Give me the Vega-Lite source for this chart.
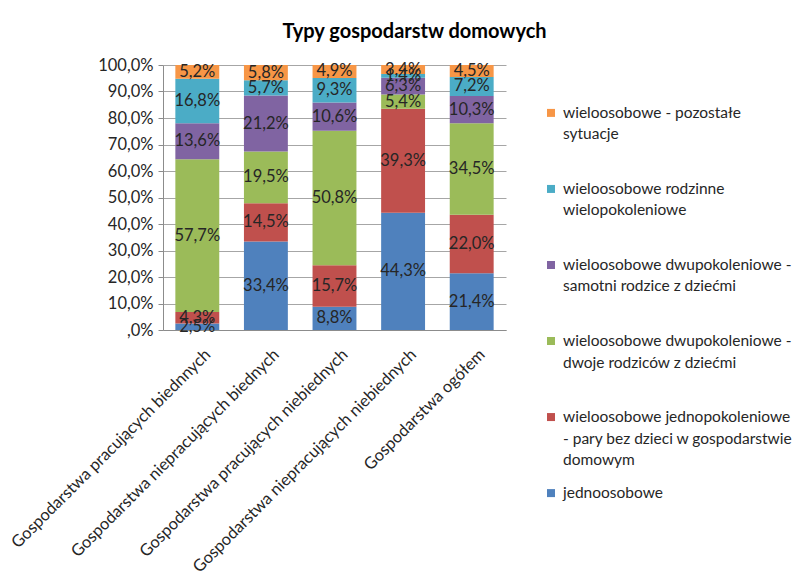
{
  "$schema": "https://vega.github.io/schema/vega-lite/v6.json",
  "padding": {"left": 8, "top": 22, "right": 2, "bottom": 0},
  "background": "white",
  "title": {"text": "Typy gospodarstw domowych", "fontSize": 20, "font": "Lato", "fontWeight": "bold", "color": "#000000", "anchor": "middle", "offset": 15, "dx": 14},
  "bounds": "flush",
  "spacing": 45,
  "datasets": {
    "bars": [
      {"cat": "Gospodarstwa pracujących biednnych", "series": "jednoosobowe", "value": 2.5},
      {"cat": "Gospodarstwa pracujących biednnych", "series": "wieloosobowe jednopokoleniowe - pary bez dzieci w gospodarstwie domowym", "value": 4.3},
      {"cat": "Gospodarstwa pracujących biednnych", "series": "wieloosobowe dwupokoleniowe - dwoje rodziców z dziećmi", "value": 57.7},
      {"cat": "Gospodarstwa pracujących biednnych", "series": "wieloosobowe dwupokoleniowe - samotni rodzice z dziećmi", "value": 13.6},
      {"cat": "Gospodarstwa pracujących biednnych", "series": "wieloosobowe rodzinne wielopokoleniowe", "value": 16.8},
      {"cat": "Gospodarstwa pracujących biednnych", "series": "wieloosobowe - pozostałe sytuacje", "value": 5.2},
      {"cat": "Gospodarstwa niepracujących biednych", "series": "jednoosobowe", "value": 33.4},
      {"cat": "Gospodarstwa niepracujących biednych", "series": "wieloosobowe jednopokoleniowe - pary bez dzieci w gospodarstwie domowym", "value": 14.5},
      {"cat": "Gospodarstwa niepracujących biednych", "series": "wieloosobowe dwupokoleniowe - dwoje rodziców z dziećmi", "value": 19.5},
      {"cat": "Gospodarstwa niepracujących biednych", "series": "wieloosobowe dwupokoleniowe - samotni rodzice z dziećmi", "value": 21.2},
      {"cat": "Gospodarstwa niepracujących biednych", "series": "wieloosobowe rodzinne wielopokoleniowe", "value": 5.7},
      {"cat": "Gospodarstwa niepracujących biednych", "series": "wieloosobowe - pozostałe sytuacje", "value": 5.8},
      {"cat": "Gospodarstwa pracujących niebiednych", "series": "jednoosobowe", "value": 8.8},
      {"cat": "Gospodarstwa pracujących niebiednych", "series": "wieloosobowe jednopokoleniowe - pary bez dzieci w gospodarstwie domowym", "value": 15.7},
      {"cat": "Gospodarstwa pracujących niebiednych", "series": "wieloosobowe dwupokoleniowe - dwoje rodziców z dziećmi", "value": 50.8},
      {"cat": "Gospodarstwa pracujących niebiednych", "series": "wieloosobowe dwupokoleniowe - samotni rodzice z dziećmi", "value": 10.6},
      {"cat": "Gospodarstwa pracujących niebiednych", "series": "wieloosobowe rodzinne wielopokoleniowe", "value": 9.3},
      {"cat": "Gospodarstwa pracujących niebiednych", "series": "wieloosobowe - pozostałe sytuacje", "value": 4.9},
      {"cat": "Gospodarstwa niepracujących niebiednych", "series": "jednoosobowe", "value": 44.3},
      {"cat": "Gospodarstwa niepracujących niebiednych", "series": "wieloosobowe jednopokoleniowe - pary bez dzieci w gospodarstwie domowym", "value": 39.3},
      {"cat": "Gospodarstwa niepracujących niebiednych", "series": "wieloosobowe dwupokoleniowe - dwoje rodziców z dziećmi", "value": 5.4},
      {"cat": "Gospodarstwa niepracujących niebiednych", "series": "wieloosobowe dwupokoleniowe - samotni rodzice z dziećmi", "value": 6.3},
      {"cat": "Gospodarstwa niepracujących niebiednych", "series": "wieloosobowe rodzinne wielopokoleniowe", "value": 1.4},
      {"cat": "Gospodarstwa niepracujących niebiednych", "series": "wieloosobowe - pozostałe sytuacje", "value": 3.4},
      {"cat": "Gospodarstwa ogółem", "series": "jednoosobowe", "value": 21.4},
      {"cat": "Gospodarstwa ogółem", "series": "wieloosobowe jednopokoleniowe - pary bez dzieci w gospodarstwie domowym", "value": 22.0},
      {"cat": "Gospodarstwa ogółem", "series": "wieloosobowe dwupokoleniowe - dwoje rodziców z dziećmi", "value": 34.5},
      {"cat": "Gospodarstwa ogółem", "series": "wieloosobowe dwupokoleniowe - samotni rodzice z dziećmi", "value": 10.3},
      {"cat": "Gospodarstwa ogółem", "series": "wieloosobowe rodzinne wielopokoleniowe", "value": 7.2},
      {"cat": "Gospodarstwa ogółem", "series": "wieloosobowe - pozostałe sytuacje", "value": 4.5}
    ],
    "leg": [
      {"series": "wieloosobowe - pozostałe sytuacje", "label": "wieloosobowe - pozostałe\nsytuacje"},
      {"series": "wieloosobowe rodzinne wielopokoleniowe", "label": "wieloosobowe rodzinne\nwielopokoleniowe"},
      {"series": "wieloosobowe dwupokoleniowe - samotni rodzice z dziećmi", "label": "wieloosobowe dwupokoleniowe -\nsamotni rodzice z dziećmi"},
      {"series": "wieloosobowe dwupokoleniowe - dwoje rodziców z dziećmi", "label": "wieloosobowe dwupokoleniowe -\ndwoje rodziców z dziećmi"},
      {"series": "wieloosobowe jednopokoleniowe - pary bez dzieci w gospodarstwie domowym", "label": "wieloosobowe jednopokoleniowe\n- pary bez dzieci w gospodarstwie\ndomowym"},
      {"series": "jednoosobowe", "label": "jednoosobowe"}
    ]
  },
  "hconcat": [
    {
      "width": 343,
      "height": 265,
      "data": {"name": "bars"},
      "transform": [
        {"calculate": "indexof(['jednoosobowe', 'wieloosobowe jednopokoleniowe - pary bez dzieci w gospodarstwie domowym', 'wieloosobowe dwupokoleniowe - dwoje rodziców z dziećmi', 'wieloosobowe dwupokoleniowe - samotni rodzice z dziećmi', 'wieloosobowe rodzinne wielopokoleniowe', 'wieloosobowe - pozostałe sytuacje'], datum.series)", "as": "ord"},
        {"stack": "value", "groupby": ["cat"], "sort": [{"field": "ord", "order": "ascending"}], "offset": "normalize", "as": ["y0", "y1"]},
        {"calculate": "(datum.y0 + datum.y1) / 2", "as": "ymid"},
        {"calculate": "replace(format(datum.value, '.1f'), '.', ',') + '%'", "as": "lab"}
      ],
      "encoding": {
        "x": {
          "field": "cat", "type": "nominal", "sort": null,
          "scale": {"paddingInner": 0.36, "paddingOuter": 0.18},
          "axis": {"title": null, "labelAngle": -45, "labelAlign": "right", "labelBaseline": "top", "labelFontSize": 16.5, "labelFont": "Lato", "labelColor": "#262626", "domainColor": "#8c8c8c", "ticks": false, "labelPadding": 16, "labelOffset": 5, "labelLimit": 500, "grid": false}
        }
      },
      "layer": [
        {
          "mark": {"type": "bar"},
          "encoding": {
            "y": {
              "field": "y0", "type": "quantitative",
              "scale": {"domain": [0, 1], "nice": false},
              "axis": {"title": null, "values": [0, 0.1, 0.2, 0.3, 0.4, 0.5, 0.6, 0.7, 0.8, 0.9, 1], "labelOverlap": false, "labelExpr": "datum.value == 0 ? ',0%' : replace(format(datum.value * 100, '.1f'), '.', ',') + '%'", "labelFontSize": 16.5, "labelFont": "Lato", "labelColor": "#262626", "domainColor": "#8c8c8c", "tickColor": "#8c8c8c", "tickSize": 5, "gridColor": "#a6a6a6", "labelPadding": 5}
            },
            "y2": {"field": "y1"},
            "color": {
              "field": "series", "type": "nominal",
              "scale": {"domain": ["jednoosobowe", "wieloosobowe jednopokoleniowe - pary bez dzieci w gospodarstwie domowym", "wieloosobowe dwupokoleniowe - dwoje rodziców z dziećmi", "wieloosobowe dwupokoleniowe - samotni rodzice z dziećmi", "wieloosobowe rodzinne wielopokoleniowe", "wieloosobowe - pozostałe sytuacje"], "range": ["#4F81BD", "#C0504D", "#9BBB59", "#8064A2", "#4BACC6", "#F79646"]},
              "legend": null
            }
          }
        },
        {
          "mark": {"type": "text", "fontSize": 16.5, "font": "Lato", "color": "#262626", "baseline": "middle", "align": "center"},
          "encoding": {
            "y": {
              "field": "ymid", "type": "quantitative",
              "axis": {"title": null, "values": [0, 0.1, 0.2, 0.3, 0.4, 0.5, 0.6, 0.7, 0.8, 0.9, 1], "labelOverlap": false, "labelExpr": "datum.value == 0 ? ',0%' : replace(format(datum.value * 100, '.1f'), '.', ',') + '%'", "labelFontSize": 16.5, "labelFont": "Lato", "labelColor": "#262626", "domainColor": "#8c8c8c", "tickColor": "#8c8c8c", "tickSize": 5, "gridColor": "#a6a6a6", "labelPadding": 5}
            },
            "text": {"field": "lab"}
          }
        }
      ]
    },
    {
      "width": 240,
      "height": 476,
      "data": {"name": "leg"},
      "encoding": {
        "y": {"field": "series", "type": "nominal", "sort": ["wieloosobowe - pozostałe sytuacje", "wieloosobowe rodzinne wielopokoleniowe", "wieloosobowe dwupokoleniowe - samotni rodzice z dziećmi", "wieloosobowe dwupokoleniowe - dwoje rodziców z dziećmi", "wieloosobowe jednopokoleniowe - pary bez dzieci w gospodarstwie domowym", "jednoosobowe"], "scale": {"type": "point", "padding": 0.63}, "axis": null},
        "x": {"datum": 0, "type": "quantitative", "scale": {"domain": [0, 1]}, "axis": null}
      },
      "layer": [
        {
          "mark": {"type": "square", "size": 64, "opacity": 1, "filled": true},
          "encoding": {
            "color": {
              "field": "series", "type": "nominal",
              "scale": {"domain": ["jednoosobowe", "wieloosobowe jednopokoleniowe - pary bez dzieci w gospodarstwie domowym", "wieloosobowe dwupokoleniowe - dwoje rodziców z dziećmi", "wieloosobowe dwupokoleniowe - samotni rodzice z dziećmi", "wieloosobowe rodzinne wielopokoleniowe", "wieloosobowe - pozostałe sytuacje"], "range": ["#4F81BD", "#C0504D", "#9BBB59", "#8064A2", "#4BACC6", "#F79646"]},
              "legend": null
            }
          }
        },
        {
          "mark": {"type": "text", "align": "left", "dx": 12, "dy": 5, "baseline": "alphabetic", "lineBreak": "\n", "lineHeight": 21.5, "fontSize": 15.5, "font": "Lato", "color": "#262626"},
          "encoding": {"text": {"field": "label"}}
        }
      ]
    }
  ],
  "config": {"view": {"stroke": null}, "font": "Lato"}
}
